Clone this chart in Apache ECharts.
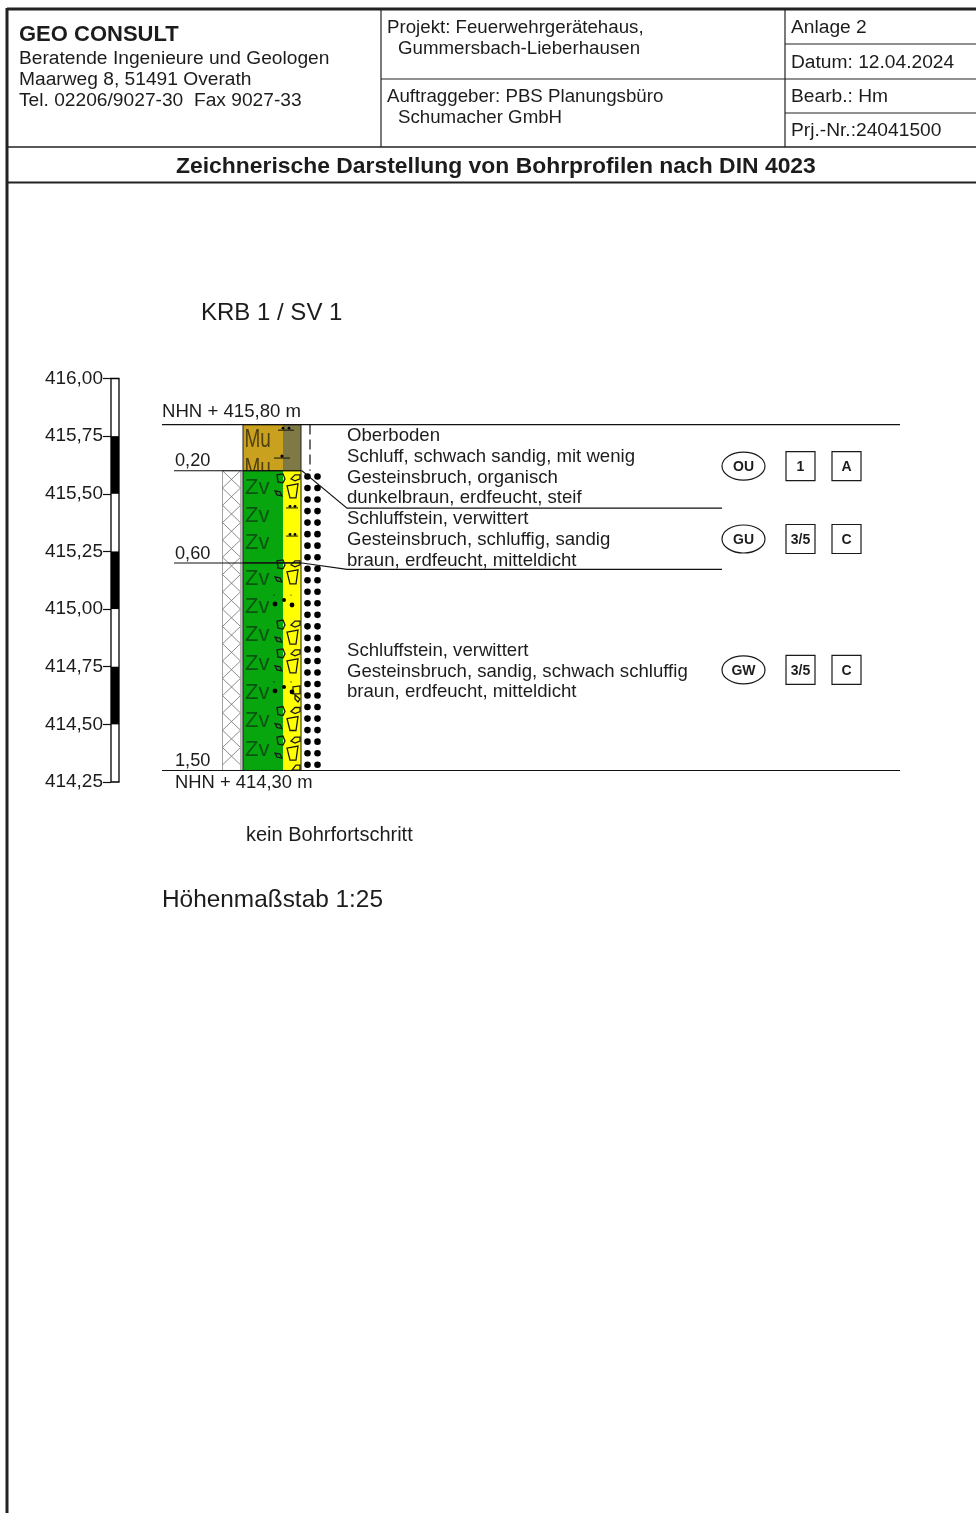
<!DOCTYPE html>
<html><head><meta charset="utf-8">
<style>html,body{margin:0;padding:0;background:#fff}#c{width:976px;height:1513px}</style>
<script src="https://cdn.jsdelivr.net/npm/echarts@6/dist/echarts.min.js"></script>
</head><body><div id="c"></div>
<script>
const elevationTicks = [416.00,415.75,415.50,415.25,415.00,414.75,414.50,414.25];
const scaleBands = [[415.75,415.50],[415.25,415.00],[414.75,414.50]];
const surfaceLevels = [415.80,414.30];
const boundaryLevels = [415.60,415.20];
const leaderLevels = [415.438,415.172];
const depthLabels = ['0,20','0,60','1,50'];
const depthLabelLevels = [415.645,415.245,414.346];
const layerBands = [[415.60,415.20],[415.20,414.30]];
const topsoilBand = [415.80,415.60];
const muLevels = [415.738,415.61];
const zvLevels = [415.53,415.41,415.29,415.135,415.015,414.89,414.765,414.64,414.52,414.395];
const gravelLevels = [415.569,415.196,414.935,414.81,414.56,414.432];
const singleStoneLevels = [414.645];
const edgeStoneLevels = [414.31];
const pebbleDotLevels = [415.022,414.645];
const siltMarkLevels = [415.443,415.321];
const topsoilMarkLevels = [415.776,415.655];
const dotLevels = [415.575,415.525,415.475,415.425,415.375,415.325,415.275,415.225,415.175,415.125,415.075,415.025,414.975,414.925,414.875,414.825,414.775,414.725,414.675,414.625,414.575,414.525,414.475,414.425,414.375,414.325];
const soilLevels = [415.62,415.304,414.736];
const soilGroups = ['OU','GU','GW'];
const classA = ['1','3/5','3/5'];
const classB = ['A','C','C'];
const descriptionLevels = [415.756,415.665,415.574,415.487,415.396,415.305,415.214,414.824,414.733,414.646];
const descriptionLines = ['Oberboden','Schluff, schwach sandig, mit wenig','Gesteinsbruch, organisch','dunkelbraun, erdfeucht, steif','Schluffstein, verwittert','Gesteinsbruch, schluffig, sandig','braun, erdfeucht, mitteldicht','Schluffstein, verwittert','Gesteinsbruch, sandig, schwach schluffig','braun, erdfeucht, mitteldicht'];

const FONT = '"Liberation Sans", Arial, sans-serif';
const INK = '#1c1c1c';
const Y = (api, v) => api.coord([111, v])[1];

function cs(name, data, z, renderItem) {
  return {type:'custom', name, coordinateSystem:'cartesian2d', data:data.map(d=>Array.isArray(d)?d:[d]),
    encode:{y:0}, z, silent:true, clip:false, animation:false, renderItem};
}
const rect=(x,y,w,h,style)=>({type:'rect',shape:{x,y,width:w,height:h},style});
const poly=(pts,style,closed)=>({type:closed?'polygon':'polyline',shape:{points:pts},style:Object.assign({fill:closed?null:'none'},style)});
const label=(x,y,text,o)=>({type:'text',x,y:y+1,style:Object.assign({text,fill:INK,font:'18.6px '+FONT,textAlign:'left',textVerticalAlign:'middle'},o||{})});
const dot=(x,y,r)=>({type:'circle',shape:{cx:x,cy:y,r},style:{fill:'#000'}});
const stoneStyle={stroke:'#1a1a1a',lineWidth:1.3,fill:'none'};

const series=[
  cs('Skala',[[416.00,414.25]],2,(p,api)=>{const a=Y(api,api.value(0)),b=Y(api,api.value(1));
    return rect(111,a,8,b-a,{fill:'#fff',stroke:'#000',lineWidth:1.3});}),
  cs('Skalenfelder',scaleBands,3,(p,api)=>{const a=Y(api,api.value(0)),b=Y(api,api.value(1));
    return rect(111,a,8,b-a,{fill:'#000'});}),
  cs('Verrohrung',[[415.60,414.30]],4,(p,api)=>{const a=Y(api,api.value(0)),b=Y(api,api.value(1));
    const ch=[];const x0=222.5,x1=240.5,step=17.3;
    ch.push(rect(x0,a,x1-x0,b-a,{fill:'#fff',stroke:'#8a8a8a',lineWidth:0.8}));
    let up=[],dn=[],i=0;
    for(let y=a;y<=b+0.1;y+=step){up.push([i%2?x1:x0,y]);dn.push([i%2?x0:x1,y]);i++;}
    ch.push(poly(up,{stroke:'#6f6f6f',lineWidth:0.8}));ch.push(poly(dn,{stroke:'#6f6f6f',lineWidth:0.8}));
    ch.push(rect(240.5,a,2,b-a,{fill:'#bdbdbd'}));
    return {type:'group',children:ch};}),
  cs('Oberboden',[topsoilBand],5,(p,api)=>{const a=Y(api,api.value(0)),b=Y(api,api.value(1));
    return {type:'group',children:[
      rect(243,a,40,b-a,{fill:'#C9A11E'}),rect(283,a,18,b-a,{fill:'#7F7A45'}),
      rect(243,a,58,b-a,{fill:'none',stroke:'#222',lineWidth:1})]};}),
  cs('Mu',muLevels,6,(p,api)=>Object.assign(label(244.5,Y(api,api.value(0)),'Mu',{font:'25px '+FONT,fill:'#3a3010',opacity:.85}),{scaleX:.76})),
  cs('Schichten',layerBands,7,(p,api)=>{const a=Y(api,api.value(0)),b=Y(api,api.value(1));
    return {type:'group',children:[
      rect(243,a,40,b-a,{fill:'#07A50E'}),rect(283,a,18,b-a,{fill:'#FFFF00'}),
      rect(243,a,58,b-a,{fill:'none',stroke:'#1a1a1a',lineWidth:1})]};}),
  cs('Zv',zvLevels,8,(p,api)=>label(245,Y(api,api.value(0)),'Zv',{font:'22px '+FONT,fill:'#0b4d12',opacity:.9})),
  cs('Gesteinsbruch',gravelLevels,9,(p,api)=>{const y=Y(api,api.value(0));
    return {type:'group',children:[
      poly([[291,y+1],[295,y-3],[300,y-3],[300,y+1],[295,y+3]],stoneStyle,true),
      poly([[277,y-3],[283,y-4],[285,y+1],[283,y+5],[278,y+4]],stoneStyle,true),
      poly([[287,y+8],[298,y+6],[296,y+20],[290,y+20]],stoneStyle,true),
      poly([[275,y+13],[280,y+14],[282,y+18],[277,y+17]],stoneStyle,true)]};}),
  cs('Einzelstein',singleStoneLevels,9,(p,api)=>{const y=Y(api,api.value(0));
    return {type:'group',children:[
      poly([[293,y-4],[300,y-5],[300,y+3],[293,y+3]],stoneStyle,true),
      poly([[295,y+4],[295,y+8],[298,y+11],[300,y+8]],stoneStyle,true)]};}),
  cs('Randstein',edgeStoneLevels,9,(p,api)=>{const y=Y(api,api.value(0));
    return poly([[292,y+2],[296,y-3],[300,y-3],[300,y+2]],stoneStyle,true);}),
  cs('Kies',pebbleDotLevels,9,(p,api)=>{const y=Y(api,api.value(0));
    return {type:'group',children:[dot(275,y,2.4),dot(284,y-4,2),dot(292,y+1,2.4),dot(274,y-9,.6),dot(291,y-9,.6)]};}),
  cs('Schluff',siltMarkLevels,9,(p,api)=>{const y=Y(api,api.value(0));
    return {type:'group',children:[poly([[286,y+1],[298,y+1]],{stroke:'#111',lineWidth:1}),dot(290,y-.6,1.4),dot(295,y-.6,1.4)]};}),
  cs('SchluffOberboden',topsoilMarkLevels,9,(p,api)=>{const y=Y(api,api.value(0));const two=p.dataIndex===0;
    return {type:'group',children:two?[poly([[278,y],[294,y]],{stroke:'#111',lineWidth:1}),dot(283,y-2,1.4),dot(289,y-2,1.4)]
      :[poly([[274,y],[290,y]],{stroke:'#111',lineWidth:1}),dot(282,y-2,1.6)]};}),
  cs('Kiespunkte',dotLevels,9,(p,api)=>{const y=Y(api,api.value(0));
    return {type:'group',children:[dot(307.5,y,3.3),dot(317.5,y,3.3)]};}),
  cs('Oberflaeche',surfaceLevels,10,(p,api)=>{const y=Y(api,api.value(0));
    return poly([[162,y],[900,y]],{stroke:'#111',lineWidth:1.1});}),
  cs('Grenzen',boundaryLevels,10,(p,api)=>{const y=Y(api,api.value(0));
    return poly([[174,y],[302,y],[347,Y(api,leaderLevels[p.dataIndex])],[722,Y(api,leaderLevels[p.dataIndex])]],{stroke:'#111',lineWidth:1.1});}),
  cs('Sondierung',[[415.80,415.60]],10,(p,api)=>{const a=Y(api,api.value(0)),b=Y(api,api.value(1));
    return poly([[310,a],[310,b]],{stroke:'#111',lineWidth:1.2,lineDash:[10,5]});}),
  cs('Tiefen',depthLabelLevels,11,(p,api)=>label(175,Y(api,api.value(0)),depthLabels[p.dataIndex],{font:'18.2px '+FONT})),
  cs('Beschreibung',descriptionLevels,11,(p,api)=>label(347,Y(api,api.value(0)),descriptionLines[p.dataIndex])),
  cs('Boden',soilLevels,11,(p,api)=>{const y=Y(api,api.value(0)),i=p.dataIndex;
    const bold={font:'bold 14px '+FONT,textAlign:'center'};
    const box={fill:'#fff',stroke:'#1a1a1a',lineWidth:1.2};
    return {type:'group',children:[
      {type:'ellipse',shape:{cx:743.5,cy:y,rx:21.5,ry:14},style:box},
      rect(786,y-14.5,29,29,box),rect(832,y-14.5,29,29,box),
      label(743.5,y,soilGroups[i],bold),label(800.5,y,classA[i],bold),label(846.5,y,classB[i],bold)]};})
];

const hLine=(x1,y,x2,w)=>({type:'line',shape:{x1,y1:y,x2,y2:y},style:{stroke:'#222',lineWidth:w||1.2}});
const vLine=(x,y1,y2,w)=>({type:'line',shape:{x1:x,y1,x2:x,y2},style:{stroke:'#222',lineWidth:w||1.2}});
const txt=(x,y,text,font,extra)=>({type:'text',x,y:y+1,style:Object.assign({text,fill:INK,font:font+' '+FONT,textVerticalAlign:'middle',textAlign:'left'},extra||{})});

const graphicEls=[
  hLine(7,9,976,3),vLine(7,8,1513,3),
  hLine(7,147,976,1.5),hLine(7,182.5,976,2),
  vLine(381,9,147),vLine(785,9,147),
  hLine(381,79,976),hLine(785,44,976),hLine(785,113,976),
  txt(19,34,'GEO CONSULT','bold 22px'),
  txt(19,58,'Beratende Ingenieure und Geologen','19.2px'),
  txt(19,79,'Maarweg 8, 51491 Overath','19.2px'),
  txt(19,100,'Tel. 02206/9027-30  Fax 9027-33','19.2px'),
  txt(387,27,'Projekt: Feuerwehrgerätehaus,','18.7px'),
  txt(398,48,'Gummersbach-Lieberhausen','18.7px'),
  txt(387,96,'Auftraggeber: PBS Planungsbüro','18.7px'),
  txt(398,117,'Schumacher GmbH','18.7px'),
  txt(791,27,'Anlage 2','19.2px'),
  txt(791,62,'Datum: 12.04.2024','19.2px'),
  txt(791,96,'Bearb.: Hm','19.2px'),
  txt(791,130,'Prj.-Nr.:24041500','19.2px'),
  txt(176,166,'Zeichnerische Darstellung von Bohrprofilen nach DIN 4023','bold 22.9px'),
  txt(201,312,'KRB 1 / SV 1','24px'),
  txt(162,411,'NHN + 415,80 m','18.6px'),
  txt(175,782,'NHN + 414,30 m','18.4px'),
  txt(246,834,'kein Bohrfortschritt','20px'),
  txt(162,899,'Höhenmaßstab 1:25','24.4px')
];

const chart=echarts.init(document.getElementById('c'),null,{renderer:'canvas'});
chart.setOption({
  animation:false,backgroundColor:'#fff',
  grid:{left:111,right:0,top:378.5,height:403.5,containLabel:false},
  xAxis:{type:'value',min:111,max:976,show:false},
  yAxis:{type:'value',min:414.25,max:416,interval:0.25,position:'left',
    axisLine:{show:false},splitLine:{show:false},
    axisTick:{show:true,length:8,lineStyle:{color:'#111',width:1.2}},
    axisLabel:{margin:8,padding:[2,0,0,0],fontFamily:'Liberation Sans',fontSize:19,color:INK,
      formatter:v=>v.toFixed(2).replace('.',',')}},
  series,
  graphic:{elements:graphicEls}
});
</script></body></html>
